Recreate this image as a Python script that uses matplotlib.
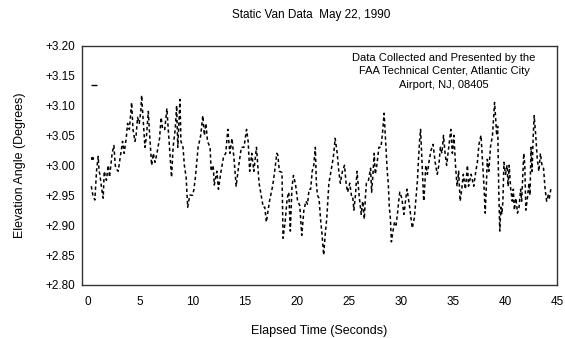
import matplotlib.pyplot as plt

plt.rcParams['font.family'] = ['Liberation Sans', 'DejaVu Sans']

# elapsed time (s) and elevation angle (deg)
time_s = [
    0.30, 0.45, 0.64, 0.80, 0.96, 1.05, 1.12, 1.30, 1.44, 1.54, 1.75, 1.92, 2.05, 2.30, 2.47,
    2.60, 2.66, 2.88, 3.05, 3.30, 3.45, 3.65, 3.78, 3.95, 4.05, 4.17, 4.30, 4.49, 4.60, 4.74,
    4.90, 5.05, 5.13, 5.25, 5.45, 5.60, 5.77, 5.90, 6.09, 6.25, 6.41, 6.60, 6.85, 7.00, 7.15,
    7.35, 7.55, 7.69, 7.85, 8.00, 8.15, 8.35, 8.49, 8.60, 8.81, 8.90,
    9.10, 9.23, 9.40, 9.55, 9.75, 10.03, 10.15, 10.29, 10.45, 10.55, 10.80, 11.00, 11.15, 11.30,
    11.45, 11.70, 11.80, 12.00, 12.10, 12.35, 12.50, 12.75, 13.00, 13.20, 13.40, 13.60, 13.80,
    14.00, 14.20, 14.45, 14.70, 14.95, 15.20, 15.35, 15.50, 15.70, 15.90, 16.15, 16.40, 16.60,
    16.80, 16.95, 17.10, 17.40, 17.70, 17.90, 18.10, 18.20, 18.35,
    18.60, 18.70, 18.90, 19.10, 19.25, 19.40, 19.55, 19.70, 19.90, 20.10, 20.30, 20.50, 20.70,
    20.90, 21.05, 21.20, 21.35, 21.50, 21.65, 21.80, 21.90, 22.00, 22.15, 22.30, 22.45, 22.60,
    22.75, 22.90, 23.00, 23.10, 23.25, 23.40, 23.55, 23.70, 23.90, 24.05, 24.20, 24.40, 24.60,
    24.75, 24.90, 25.10, 25.30, 25.40, 25.50, 25.65, 25.80, 26.00, 26.20, 26.35, 26.50, 26.60,
    26.70, 26.90, 27.10, 27.20, 27.30, 27.45, 27.55, 27.70, 27.90, 28.10, 28.25, 28.40, 28.55,
    28.70, 28.80, 28.90, 29.00, 29.10, 29.25, 29.40, 29.55, 29.70, 29.80, 29.90, 30.10, 30.30,
    30.45, 30.60, 30.85, 31.10, 31.30, 31.50, 31.60, 31.70, 31.80, 31.90, 32.05, 32.20, 32.30,
    32.40, 32.55, 32.70, 32.90, 33.10, 33.30, 33.50, 33.65, 33.80, 33.95, 34.10, 34.25, 34.40,
    34.60, 34.80, 34.95, 35.10, 35.25, 35.40, 35.55, 35.70, 35.85, 36.00, 36.20, 36.40, 36.50,
    36.75, 37.00, 37.20, 37.35, 37.50, 37.70, 37.80, 37.90, 38.00, 38.10, 38.20, 38.30, 38.45,
    38.60, 38.80, 38.90, 39.00, 39.10, 39.20, 39.30, 39.40, 39.50, 39.60, 39.70, 39.80, 39.90,
    40.05, 40.20, 40.30, 40.40, 40.55, 40.70, 40.80, 40.90, 41.05, 41.20, 41.35, 41.50, 41.60,
    41.80, 41.90, 42.00, 42.15, 42.30, 42.40, 42.50, 42.60, 42.70, 42.80, 42.95, 43.10, 43.25,
    43.40, 43.55, 43.70, 43.85, 44.00, 44.15, 44.25, 44.40,
]
elev_deg = [
    2.965, 2.950, 2.942, 2.990, 3.015, 2.990, 2.985, 2.960, 2.945, 2.990, 2.975, 3.000, 2.980, 3.020, 3.033,
    3.000, 2.995, 2.990, 3.010, 3.040, 3.020, 3.045, 3.070, 3.060, 3.080, 3.105, 3.060, 3.040, 3.050, 3.080,
    3.070, 3.090, 3.117, 3.083, 3.030, 3.050, 3.090, 3.050, 3.000, 3.020, 3.005, 3.020, 3.045, 3.080, 3.060,
    3.060, 3.095, 3.060, 3.020, 2.980, 3.030, 3.060, 3.100, 3.030, 3.110, 3.040,
    3.030, 3.000, 2.980, 2.930, 2.950, 2.950, 2.960, 2.980, 3.010, 3.030, 3.050, 3.083, 3.050, 3.070,
    3.040, 3.030, 2.990, 3.000, 2.967, 2.990, 2.960, 2.990, 3.015, 3.020, 3.060, 3.020, 3.045,
    3.010, 2.965, 3.000, 3.030, 3.030, 3.060, 3.040, 2.990, 3.020, 2.990, 3.030, 2.970, 2.950,
    2.930, 2.930, 2.905, 2.940, 2.965, 2.990, 3.020, 3.017, 2.990,
    2.988, 2.878, 2.905, 2.945, 2.955, 2.890, 2.962, 2.983, 2.968, 2.940, 2.933, 2.883, 2.925,
    2.940, 2.935, 2.960, 2.960, 2.990, 3.000, 3.030, 2.970, 2.950, 2.945, 2.910, 2.883, 2.850,
    2.885, 2.912, 2.940, 2.970, 2.985, 3.000, 3.017, 3.045, 3.020, 2.990, 2.970, 2.990, 3.000,
    2.970, 2.955, 2.970, 2.945, 2.945, 2.925, 2.950, 2.990, 2.950, 2.918, 2.940, 2.910, 2.945,
    2.970, 2.975, 2.995, 2.955, 2.978, 3.020, 2.985, 3.000, 3.030, 3.030, 3.055, 3.087, 3.040,
    2.990, 2.970, 2.930, 2.912, 2.872, 2.890, 2.905, 2.900, 2.922, 2.940, 2.955, 2.945, 2.918,
    2.940, 2.960, 2.930, 2.895, 2.912, 2.955, 2.975, 3.010, 3.040, 3.060, 3.000, 2.940, 2.965,
    3.000, 2.985, 3.005, 3.025, 3.035, 3.005, 2.985, 3.000, 3.030, 3.020, 3.050, 3.020, 3.000,
    3.030, 3.060, 3.020, 3.050, 3.000, 2.965, 2.990, 2.940, 2.960, 2.985, 2.960, 3.000, 2.965,
    2.985, 2.965, 2.990, 3.005, 3.035, 3.050, 3.020, 2.990, 2.960, 2.920, 2.960, 3.010, 2.990,
    3.030, 3.050, 3.078, 3.105, 3.080, 3.050, 3.065, 2.960, 2.890, 2.930, 2.918, 2.940, 3.005,
    2.985, 3.000, 2.965, 3.000, 2.960, 2.940, 2.960, 2.925, 2.945, 2.920, 2.930, 2.960, 2.940,
    3.020, 3.000, 2.925, 2.945, 2.970, 2.950, 3.030, 2.990, 3.045, 3.083, 3.050, 3.010, 2.990,
    3.020, 3.000, 2.995, 2.960, 2.940, 2.950, 2.945, 2.960,
]
# stray samples at the very start
stray_t = [0.58, 0.32]
stray_v = [3.135, 3.012]

y_ticks = [2.80, 2.85, 2.90, 2.95, 3.00, 3.05, 3.10, 3.15, 3.20]
x_ticks = [0, 5, 10, 15, 20, 25, 30, 35, 40, 45]

fig = plt.figure(figsize=(5.65, 3.38), dpi=100)
ax = fig.add_axes([0.145, 0.157, 0.841, 0.708])

ax.plot(time_s, elev_deg, color='black', lw=1.1, linestyle=(0, (2.2, 1.8)))
ax.plot(stray_t[:1], stray_v[:1], color='black', marker='_', ms=4, mew=1, ls='none')
ax.plot(stray_t[1:], stray_v[1:], color='black', marker='s', ms=1.2, ls='none')

ax.set_xlim(-0.6, 45)
ax.set_ylim(2.80, 3.20)
ax.set_xticks(x_ticks)
ax.set_yticks(y_ticks)
ax.set_yticklabels(['%+.2f' % v for v in y_ticks])
ax.tick_params(length=0, labelsize=8.5)
ax.tick_params(axis='x', pad=8)
ax.tick_params(axis='y', pad=5)
for s in ax.spines.values():
    s.set_linewidth(1.0)
    s.set_color('#333333')

ax.set_xlabel('Elapsed Time (Seconds)', fontsize=9, labelpad=12)
ax.set_ylabel('Elevation Angle (Degrees)', fontsize=9, labelpad=14)
fig.text(0.55, 0.955, 'Static Van Data  May 22, 1990', ha='center', va='center', fontsize=8.5)

ax.text(0.762, 0.97, 'Data Collected and Presented by the\nFAA Technical Center, Atlantic City\nAirport, NJ, 08405',
        transform=ax.transAxes, ha='center', va='top', fontsize=8, linespacing=1.45)

fig.savefig('out.png', dpi=100)
